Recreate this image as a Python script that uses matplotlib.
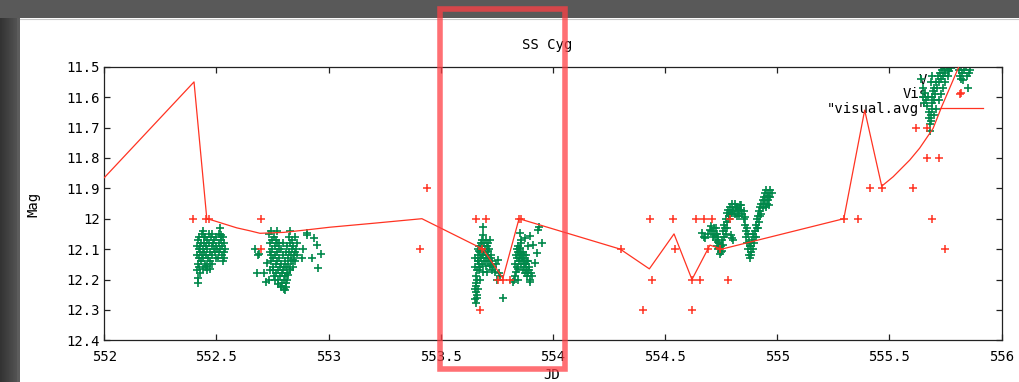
import matplotlib
matplotlib.use('Agg')
import matplotlib.pyplot as plt
import numpy as np
from matplotlib.lines import Line2D
from matplotlib.patches import Rectangle
from matplotlib.ticker import FuncFormatter

plt.rcParams['font.family'] = ['DejaVu Sans Mono']
plt.rcParams['font.size'] = 10

# V photometry (green), one list of (JD, mag) per night
v_night1 = [
    (552.412, 12.09), (552.414, 12.12), (552.416, 12.15), (552.415, 12.17), (552.418, 12.07),
    (552.420, 12.10), (552.422, 12.13), (552.424, 12.16), (552.421, 12.06), (552.426, 12.09),
    (552.428, 12.11), (552.430, 12.14), (552.432, 12.08), (552.434, 12.12), (552.436, 12.05),
    (552.438, 12.10), (552.440, 12.13), (552.442, 12.04), (552.444, 12.08), (552.446, 12.11),
    (552.448, 12.15), (552.450, 12.06), (552.452, 12.09), (552.454, 12.12), (552.456, 12.17),
    (552.458, 12.07), (552.460, 12.10), (552.462, 12.13), (552.465, 12.05), (552.468, 12.08),
    (552.470, 12.11), (552.472, 12.14), (552.475, 12.06), (552.478, 12.09), (552.480, 12.05),
    (552.482, 12.12), (552.485, 12.08), (552.488, 12.10), (552.490, 12.07), (552.493, 12.11),
    (552.496, 12.09), (552.500, 12.06), (552.503, 12.10), (552.506, 12.13), (552.510, 12.08),
    (552.513, 12.05), (552.516, 12.03), (552.518, 12.10), (552.520, 12.07), (552.523, 12.12),
    (552.526, 12.09), (552.528, 12.14), (552.530, 12.06), (552.532, 12.11), (552.535, 12.13),
    (552.418, 12.195), (552.418, 12.21), (552.455, 12.16), (552.479, 12.15), (552.440, 12.165),
    (552.425, 12.18), (552.445, 12.06), (552.460, 12.155), (552.470, 12.165), (552.500, 12.13),
    (552.510, 12.11), (552.520, 12.055), (552.535, 12.08), (552.540, 12.10),
]
v_night2 = [
    (552.672, 12.10), (552.686, 12.12), (552.724, 12.147), (552.682, 12.178), (552.710, 12.178),
    (552.720, 12.207), (552.887, 12.10), (552.924, 12.13), (552.965, 12.117), (552.954, 12.163),
    (552.902, 12.048), (552.935, 12.064), (552.947, 12.087), (552.880, 12.13), (552.690, 12.115),
    (552.905, 12.055),
    (552.735, 12.05), (552.738, 12.08), (552.740, 12.11), (552.742, 12.14), (552.745, 12.04),
    (552.747, 12.07), (552.749, 12.10), (552.751, 12.13), (552.753, 12.16), (552.755, 12.19),
    (552.757, 12.06), (552.760, 12.09), (552.762, 12.12), (552.764, 12.15), (552.766, 12.18),
    (552.768, 12.04), (552.770, 12.11), (552.772, 12.14), (552.774, 12.17), (552.776, 12.20),
    (552.778, 12.08), (552.780, 12.13), (552.782, 12.16), (552.784, 12.19), (552.786, 12.22),
    (552.788, 12.10), (552.790, 12.15), (552.792, 12.18), (552.794, 12.21), (552.796, 12.12),
    (552.798, 12.17), (552.800, 12.20), (552.802, 12.23), (552.804, 12.14), (552.806, 12.19),
    (552.808, 12.21), (552.810, 12.11), (552.812, 12.16), (552.814, 12.18), (552.816, 12.09),
    (552.818, 12.13), (552.820, 12.15), (552.822, 12.06), (552.824, 12.11), (552.826, 12.17),
    (552.828, 12.04), (552.830, 12.08), (552.832, 12.12), (552.834, 12.14), (552.836, 12.07),
    (552.838, 12.10), (552.840, 12.16), (552.843, 12.09), (552.846, 12.12), (552.849, 12.06),
    (552.852, 12.14), (552.855, 12.10), (552.858, 12.08), (552.861, 12.12), (552.805, 12.235),
    (552.745, 12.12), (552.750, 12.17), (552.760, 12.20), (552.770, 12.08), (552.775, 12.215),
    (552.780, 12.10), (552.790, 12.225), (552.800, 12.16), (552.810, 12.225), (552.815, 12.20),
    (552.820, 12.185), (552.830, 12.165), (552.840, 12.135), (552.850, 12.11), (552.740, 12.17),
    (552.735, 12.20), (552.765, 12.07), (552.795, 12.08),
]
v_night3 = [
    (553.652, 12.13), (553.654, 12.16), (553.655, 12.19), (553.657, 12.22), (553.658, 12.24),
    (553.660, 12.26), (553.656, 12.278), (553.660, 12.20), (553.662, 12.17), (553.664, 12.14),
    (553.665, 12.10), (553.668, 12.12), (553.670, 12.09), (553.672, 12.15), (553.674, 12.11),
    (553.676, 12.13), (553.678, 12.08), (553.680, 12.10), (553.682, 12.12), (553.684, 12.07),
    (553.687, 12.026), (553.690, 12.054), (553.686, 12.09), (553.692, 12.11), (553.695, 12.08),
    (553.698, 12.10), (553.700, 12.13), (553.703, 12.07), (553.706, 12.09), (553.708, 12.12),
    (553.710, 12.08), (553.712, 12.14), (553.716, 12.10), (553.720, 12.07), (553.722, 12.13),
    (553.726, 12.15), (553.730, 12.14), (553.735, 12.16), (553.741, 12.174), (553.745, 12.15),
    (553.749, 12.20), (553.756, 12.136), (553.760, 12.18), (553.765, 12.19), (553.778, 12.262),
    (553.670, 12.17), (553.675, 12.20), (553.690, 12.175), (553.705, 12.175), (553.665, 12.23),
    (553.668, 12.14), (553.672, 12.105), (553.676, 12.16), (553.680, 12.13), (553.684, 12.15),
    (553.688, 12.12), (553.694, 12.14), (553.700, 12.155), (553.710, 12.105), (553.715, 12.13),
    (553.718, 12.155), (553.724, 12.12), (553.730, 12.17), (553.662, 12.25), (553.658, 12.21),
    (553.652, 12.23), (553.654, 12.265),
    (553.823, 12.207), (553.830, 12.19), (553.832, 12.15), (553.835, 12.12), (553.838, 12.10),
    (553.840, 12.13), (553.843, 12.09), (553.845, 12.11), (553.848, 12.14), (553.850, 12.10),
    (553.853, 12.048), (553.855, 12.12), (553.858, 12.08), (553.860, 12.15), (553.862, 12.13),
    (553.865, 12.17), (553.868, 12.11), (553.870, 12.14), (553.872, 12.16), (553.875, 12.18),
    (553.878, 12.12), (553.880, 12.15), (553.883, 12.17), (553.886, 12.19), (553.890, 12.14),
    (553.893, 12.16), (553.898, 12.057), (553.898, 12.207), (553.902, 12.18), (553.905, 12.19),
    (553.912, 12.087), (553.920, 12.147), (553.927, 12.114), (553.934, 12.037), (553.936, 12.026),
    (553.950, 12.079), (553.860, 12.07), (553.875, 12.065), (553.840, 12.16), (553.890, 12.09),
    (553.845, 12.165), (553.850, 12.13), (553.855, 12.095), (553.860, 12.115), (553.865, 12.135),
    (553.870, 12.12), (553.875, 12.15), (553.880, 12.17), (553.885, 12.14), (553.890, 12.18),
    (553.895, 12.17), (553.900, 12.20), (553.835, 12.175), (553.828, 12.20), (553.845, 12.20),
]
v_night4 = [
    (554.665, 12.048), (554.672, 12.06), (554.700, 12.037), (554.705, 12.025), (554.710, 12.04),
    (554.715, 12.06), (554.720, 12.03), (554.725, 12.05), (554.728, 12.07), (554.732, 12.09),
    (554.735, 12.06), (554.738, 12.10), (554.742, 12.08), (554.745, 12.115), (554.748, 12.09),
    (554.752, 12.105), (554.755, 12.07), (554.760, 12.04), (554.765, 12.02), (554.770, 12.00),
    (554.775, 11.98), (554.762, 12.06), (554.768, 12.03), (554.778, 12.01), (554.782, 11.97),
    (554.786, 11.99), (554.790, 11.96), (554.795, 11.98), (554.800, 11.95), (554.805, 11.97),
    (554.810, 11.95), (554.815, 11.965), (554.820, 11.96), (554.825, 11.975), (554.830, 11.99),
    (554.835, 11.955), (554.840, 11.97), (554.845, 11.985), (554.800, 12.065), (554.795, 12.055),
    (554.805, 12.07), (554.850, 12.00), (554.855, 12.02), (554.860, 12.04), (554.862, 12.06),
    (554.865, 12.08), (554.870, 12.10), (554.873, 12.12), (554.878, 12.13), (554.882, 12.11),
    (554.885, 12.09), (554.888, 12.07), (554.890, 12.05), (554.895, 12.06), (554.900, 12.04),
    (554.905, 12.02), (554.910, 12.00), (554.915, 11.99), (554.920, 11.975), (554.925, 11.96),
    (554.930, 11.95), (554.935, 11.94), (554.940, 11.93), (554.945, 11.917), (554.950, 11.905),
    (554.955, 11.925), (554.960, 11.94), (554.965, 11.955), (554.970, 11.93), (554.975, 11.915),
    (554.912, 12.03), (554.930, 11.985), (554.950, 11.96),
    (554.725, 12.03), (554.730, 12.05), (554.735, 12.075), (554.740, 12.095), (554.750, 12.11),
    (554.760, 12.085), (554.770, 12.05), (554.775, 12.03), (554.785, 12.00), (554.790, 11.985),
    (554.800, 11.975), (554.810, 11.985), (554.820, 11.99), (554.830, 11.97), (554.840, 11.955),
    (554.850, 11.975), (554.858, 11.995), (554.865, 12.03), (554.870, 12.05), (554.875, 12.075),
    (554.880, 12.09), (554.885, 12.12), (554.892, 12.10), (554.898, 12.08), (554.905, 12.06),
    (554.915, 12.03), (554.920, 12.01), (554.925, 11.99), (554.935, 11.965), (554.940, 11.95),
    (554.945, 11.94), (554.955, 11.95), (554.960, 11.915), (554.965, 11.93), (554.968, 11.905),
    (554.720, 12.055), (554.690, 12.05), (554.680, 12.065),
]
v_night5 = [
    (555.643, 11.54), (555.648, 11.57), (555.652, 11.60), (555.655, 11.62), (555.660, 11.585),
    (555.665, 11.61), (555.668, 11.63), (555.672, 11.60), (555.675, 11.65), (555.678, 11.67),
    (555.680, 11.69), (555.682, 11.71), (555.684, 11.68), (555.686, 11.66), (555.688, 11.64),
    (555.690, 11.62), (555.692, 11.60), (555.695, 11.58), (555.698, 11.61), (555.700, 11.57),
    (555.705, 11.59), (555.708, 11.55), (555.712, 11.57), (555.715, 11.53), (555.720, 11.55),
    (555.725, 11.52), (555.730, 11.54), (555.735, 11.51), (555.740, 11.53), (555.745, 11.505),
    (555.750, 11.52), (555.755, 11.50), (555.760, 11.51), (555.770, 11.50), (555.810, 11.51),
    (555.815, 11.53), (555.820, 11.50), (555.825, 11.52), (555.830, 11.545), (555.835, 11.51),
    (555.840, 11.50), (555.845, 11.53), (555.850, 11.57), (555.855, 11.52), (555.860, 11.51),
    (555.685, 11.55), (555.690, 11.53), (555.700, 11.66), (555.710, 11.64), (555.720, 11.61),
    (555.730, 11.59), (555.740, 11.57), (555.750, 11.55), (555.760, 11.53), (555.765, 11.515),
    (555.775, 11.505),
]

# visual estimates (red +)
vis_jd = [552.394, 552.453, 552.468, 552.698, 552.698,
          553.437, 553.407, 553.655, 553.700, 553.685, 553.756, 553.778, 553.808, 553.675,
          553.848, 553.860,
          554.302, 554.432, 554.440, 554.403, 554.534, 554.544, 554.618, 554.622, 554.655,
          554.640, 554.673, 554.710, 554.692, 554.745, 554.780, 554.790,
          555.297, 555.361, 555.413, 555.468, 555.606, 555.688, 555.747, 555.620, 555.666,
          555.668, 555.722, 555.814]
vis_mag = [12.0, 12.0, 12.0, 12.0, 12.1,
           11.9, 12.1, 12.0, 12.0, 12.1, 12.2, 12.2, 12.2, 12.3,
           12.0, 12.0,
           12.1, 12.0, 12.2, 12.3, 12.0, 12.1, 12.2, 12.3, 12.2,
           12.0, 12.0, 12.0, 12.1, 12.1, 12.2, 12.0,
           12.0, 12.0, 11.9, 11.9, 11.9, 12.0, 12.1, 11.7, 11.7,
           11.8, 11.8, 11.59]

# "visual.avg" running mean
avg_jd = [552.0, 552.40, 552.457, 552.486, 552.59, 552.65, 552.694, 552.80, 552.90, 553.006,
          553.20, 553.416, 553.688, 553.777, 553.849, 554.30, 554.43, 554.54, 554.62, 554.70,
          554.753, 555.297, 555.39, 555.466, 555.517, 555.591, 555.635, 555.695, 555.733,
          555.807, 555.83]
avg_mag = [11.865, 11.55, 12.0, 12.006, 12.03, 12.04, 12.048, 12.045, 12.037, 12.028,
           12.015, 12.0, 12.10, 12.196, 12.0, 12.10, 12.165, 12.05, 12.2, 12.087,
           12.10, 12.0, 11.643, 11.893, 11.862, 11.807, 11.768, 11.703, 11.632,
           11.505, 11.45]

x_ticks = [552, 552.5, 553, 553.5, 554, 554.5, 555, 555.5, 556]
y_ticks = [11.5, 11.6, 11.7, 11.8, 11.9, 12.0, 12.1, 12.2, 12.3, 12.4]

GREEN = '#00884a'
RED = '#ff3322'

W, H = 1020, 382
fig = plt.figure(figsize=(W / 100, H / 100), dpi=100, facecolor='white')

# dark window frame of the screenshot
gax = fig.add_axes([0, 0, 20 / W, 1])
grad = np.concatenate([np.linspace(0.20, 0.32, 17), [0.36, 0.36, 0.36]])
gax.imshow(grad[None, :], cmap='gray', vmin=0, vmax=1, aspect='auto', extent=(0, 1, 0, 1))
gax.axis('off')
fig.add_artist(Rectangle((0, 1 - 18 / H), 1, 18 / H, transform=fig.transFigure,
                         facecolor='#595959', edgecolor='none', zorder=1))
fig.add_artist(Line2D([20 / W, 1], [1 - 18.5 / H, 1 - 18.5 / H], transform=fig.transFigure,
                      color='#c8c8c8', lw=0.8, zorder=1))

x0, x1, yt, yb = 104.3, 1001.5, 66.7, 340.3
ax = fig.add_axes([x0 / W, 1 - yb / H, (x1 - x0) / W, (yb - yt) / H])

all_v = v_night1 + v_night2 + v_night3 + v_night4 + v_night5
v_jd = [p[0] for p in all_v]
v_mag = [p[1] for p in all_v]

ax.plot(v_jd, v_mag, ls='none', marker='+', ms=5.2, mew=1.2, color=GREEN, zorder=2)
ax.plot(vis_jd, vis_mag, ls='none', marker='+', ms=5.2, mew=1.1, color=RED, zorder=3)
ax.plot(avg_jd, avg_mag, color=RED, lw=0.9, zorder=4)

ax.set_xlim(552, 556)
ax.set_ylim(12.4, 11.5)
ax.set_xticks(x_ticks)
ax.set_yticks(y_ticks)
fmt = FuncFormatter(lambda v, p: '%g' % round(v, 3))
ax.xaxis.set_major_formatter(fmt)
ax.yaxis.set_major_formatter(fmt)
ax.tick_params(direction='in', length=4.5, width=0.9, top=True, right=True,
               colors='#222222', labelcolor='black', labelsize=10)
ax.tick_params(axis='x', pad=7)
ax.tick_params(axis='y', pad=3)
for s in ax.spines.values():
    s.set_linewidth(0.9)
    s.set_color('#222222')

handles = [Line2D([], [], ls='none', marker='+', ms=5.2, mew=1.2, color=GREEN),
           Line2D([], [], ls='none', marker='+', ms=5.2, mew=1.1, color=RED),
           Line2D([], [], color=RED, lw=0.9)]
leg = ax.legend(handles, ['V', 'Vis', '"visual.avg"'], markerfirst=False, frameon=False,
                loc='upper right', bbox_to_anchor=(983 / W, 1 - 73 / H),
                bbox_transform=fig.transFigure, borderpad=0, borderaxespad=0,
                labelspacing=0.02, handlelength=3.1, handletextpad=0.9, fontsize=10)
leg.set_zorder(1)

fig.text(547 / W, 1 - 45 / H, 'SS Cyg', ha='center', va='center', fontsize=10)
fig.text(552 / W, 1 - 375 / H, 'JD', ha='center', va='center', fontsize=10)
fig.text(33 / W, 1 - 204 / H, 'Mag', rotation=90, ha='center', va='center', fontsize=10)

# highlight box drawn over the screenshot
fig.add_artist(Rectangle((440.5 / W, 1 - 369.3 / H), (565.3 - 440.5) / W, (369.3 - 9) / H,
                         transform=fig.transFigure, fill=False, edgecolor='#ff4046',
                         alpha=0.75, lw=4.0, joinstyle='miter', zorder=10))

fig.savefig('out.png', dpi=100, facecolor='white')
